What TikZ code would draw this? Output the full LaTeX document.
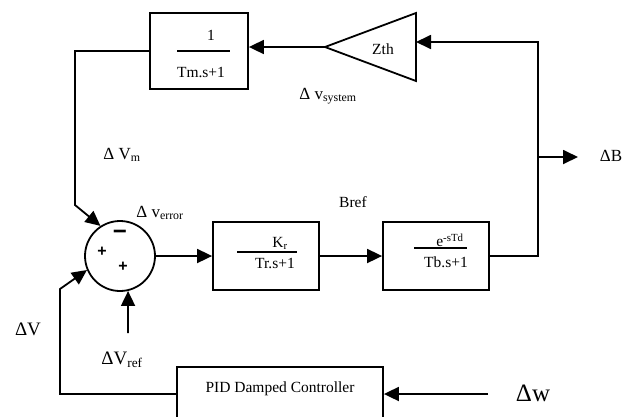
\documentclass[tikz,border=0pt]{standalone}
\usepackage{fontspec}
\setmainfont{Liberation Serif}
\newfontfamily\signfont{Liberation Sans}
\usetikzlibrary{arrows.meta}
\begin{document}
\begin{tikzpicture}[x=1pt,y=-1pt,line width=1.8pt,
blockbox/.style={draw,rectangle,inner sep=0pt},
sumjunction/.style={draw,circle,minimum size=70pt,inner sep=0pt},
signal/.style={-{Triangle[length=15pt,width=14pt]}},
boxtext/.style={font=\fontsize{15.5}{17}\selectfont,inner sep=0pt},
textlabel/.style={font=\fontsize{17}{19}\selectfont,inner sep=0pt},
signtext/.style={font=\signfont\bfseries\fontsize{16}{18}\selectfont,inner sep=0pt}]
\clip (0,0) rectangle (635,416);
\node at (199,51) [blockbox,minimum width=98pt,minimum height=76pt] (tm) {};
\node at (211,35) [boxtext] (tmnum) {1};
\draw (177,51) -- (230,51);
\node at (201,72) [boxtext] (tmden) {Tm.s+1};
\draw (325,47) -- (416,13) -- (416,81) -- cycle;
\node at (383,49) [boxtext] (zth) {Zth};
\coordinate (zthin) at (416,42);
\coordinate (zthout) at (325,47);
\node at (328,96) [textlabel] (vsystem) {Δ v\textsubscript{system}};
\node at (120,256) [sumjunction] (sum) {};
\node at (120,235) [signtext,font=\signfont\bfseries\fontsize{24}{26}\selectfont] (minus) {−};
\node at (102,252) [signtext] (plusleft) {+};
\node at (123,267) [signtext] (plusbottom) {+};
\node at (266,256) [blockbox,minimum width=106pt,minimum height=68pt] (kr) {};
\node at (280,243) [boxtext] (krnum) {K\textsubscript{r}};
\draw (237,252) -- (297,252);
\node at (275,263) [boxtext] (krden) {Tr.s+1};
\node at (436,256) [blockbox,minimum width=106pt,minimum height=68pt] (tb) {};
\node at (450,240) [boxtext] (tbnum) {e\textsuperscript{-sTd}};
\draw (414,248) -- (467,248);
\node at (446,262) [boxtext] (tbden) {Tb.s+1};
\node at (353,202) [boxtext] (bref) {Bref};
\coordinate (joint) at (538,256);
\coordinate (corner) at (538,42);
\coordinate (split) at (538,157);
\coordinate (dbtip) at (578,157);
\node at (611,156) [textlabel] (db) {ΔB};
\coordinate (vmbend) at (75,205);
\node at (122,155) [textlabel] (vm) {Δ V\textsubscript{m}};
\node at (160,213) [textlabel] (verror) {Δ v\textsubscript{error}};
\node at (28,329) [textlabel,font=\fontsize{19}{21}\selectfont] (dv) {ΔV};
\coordinate (dvbend) at (60,289);
\coordinate (pidcorner) at (60,394);
\node at (122,360) [textlabel,font=\fontsize{19}{21}\selectfont] (vref) {ΔV\textsubscript{ref}};
\coordinate (vrefstart) at (128,333);
\node at (280,394) [blockbox,minimum width=206pt,minimum height=54pt] (pid) {};
\node at (280,389) [boxtext] (pidtext) {PID Damped Controller};
\coordinate (dwstart) at (488,394);
\node at (533,393) [textlabel,font=\fontsize{25}{27}\selectfont] (dw) {Δw};
\draw[signal] (tb.east) -- (joint) -- (corner) -- (zthin);
\draw[signal] (split) -- (dbtip);
\draw[signal] (zthout) -- (zthout -| tm.east);
\draw[signal] (tm.west) -- (tm.west -| vmbend) -- (vmbend) -- (sum.123);
\draw[signal] (sum.east) -- (kr.west);
\draw[signal] (kr.east) -- (tb.west);
\draw[signal] (pid.west) -- (pidcorner) -- (dvbend) -- (sum.203);
\draw[signal] (dwstart) -- (pid.east);
\draw[signal] (vrefstart) -- (sum.283);
\end{tikzpicture}
\end{document}
